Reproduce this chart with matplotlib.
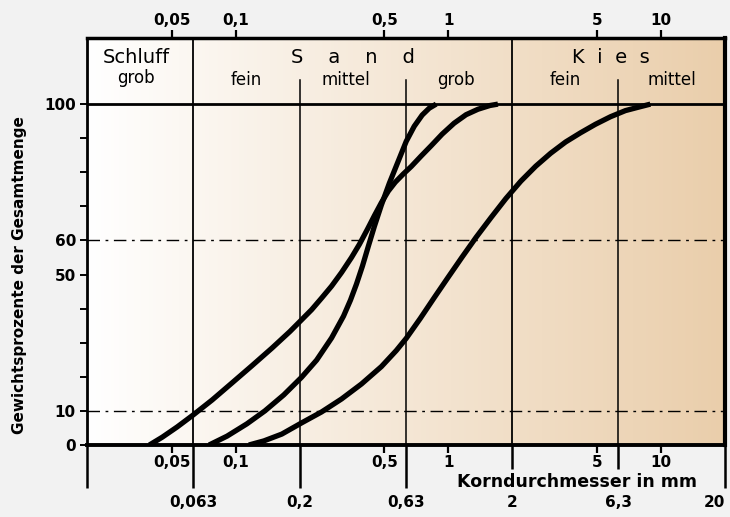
import numpy as np
import matplotlib
matplotlib.use("Agg")
import matplotlib.pyplot as plt
from matplotlib.ticker import FixedLocator, FixedFormatter

# Sieblinien: Korndurchmesser in mm / Siebdurchgang in %
d_links = [0.0393, 0.0452, 0.0531, 0.0631, 0.0775, 0.0961, 0.119, 0.148, 0.180, 0.204,
           0.2277, 0.2536, 0.2825, 0.3147, 0.3505, 0.3821, 0.4166, 0.4494, 0.4845,
           0.5224, 0.5631, 0.6141, 0.6694, 0.7457, 0.8307, 0.9354, 1.0646, 1.2117,
           1.379, 1.570, 1.711]
p_links = [0, 2.3, 5.3, 8.8, 13.2, 18.2, 23.2, 28.4, 33.3, 36.7,
           39.7, 43.1, 46.6, 50.6, 55.0, 58.9, 63.3, 67.3, 71.1,
           74.5, 77.1, 79.5, 81.7, 84.8, 87.8, 91.2, 94.4, 96.9,
           98.5, 99.6, 100]

d_mitte = [0.0750, 0.0911, 0.1129, 0.1372, 0.1684, 0.2044, 0.2403, 0.2825, 0.3215,
           0.3467, 0.3699, 0.3947, 0.4211, 0.4494, 0.4845, 0.5281, 0.5818, 0.6343,
           0.6914, 0.7536, 0.8130, 0.8768]
p_mitte = [0, 2.6, 6.2, 10.0, 14.7, 19.9, 24.9, 31.4, 37.8,
           42.5, 47.2, 52.5, 58.4, 64.2, 70.4, 76.8, 83.3, 89.1,
           93.5, 96.8, 98.8, 100]

d_rechts = [0.1154, 0.1357, 0.1648, 0.2044, 0.2536, 0.3147, 0.3905, 0.4845, 0.5692,
            0.6343, 0.7377, 0.858, 0.998, 1.160, 1.350, 1.587, 1.865, 2.193, 2.578,
            3.030, 3.562, 4.188, 4.923, 5.788, 6.805, 7.831, 8.915]
p_rechts = [0, 1.2, 3.2, 6.5, 9.7, 13.5, 17.9, 23.0, 27.7,
            31.3, 37.1, 43.2, 49.2, 55.1, 60.9, 66.7, 72.3, 77.4, 81.8,
            85.6, 88.9, 91.6, 94.1, 96.3, 98.1, 99.1, 100]

# Korngrenzen (lange Striche unten) und Zwischenwerte (kurze Striche)
grenzen = [0.02, 0.063, 0.2, 0.63, 2, 6.3, 20]
grenzen_labels = ["", "0,063", "0,2", "0,63", "2", "6,3", "20"]
zwischen = [0.05, 0.1, 0.5, 1, 5, 10]
zwischen_labels = ["0,05", "0,1", "0,5", "1", "5", "10"]
y_ticks = list(range(0, 101, 10))
y_labels = ["0", "10", "", "", "", "50", "60", "", "", "", "100"]

kopf = 119.4

fig = plt.figure(figsize=(7.3, 5.17), dpi=100, facecolor="#f2f2f2")
ax = fig.add_axes([87 / 730, 72 / 517, 638 / 730, 407 / 517])

# Hintergrund: Verlauf weiss -> sandfarben
t = np.linspace(0, 1, 256)[:, None]
c0 = np.array([255, 255, 255]) / 255
c1 = np.array([234, 206, 171]) / 255
grad = (c0 + (c1 - c0) * t).reshape(1, 256, 3)
ax.imshow(grad, extent=[0, 1, 0, 1], transform=ax.transAxes, aspect="auto", zorder=0)

ax.set_xscale("log")
ax.set_xlim(0.02, 20)
ax.set_ylim(0, kopf)

# Raster
for g in [0.063, 2]:
    ax.plot([g, g], [0, kopf], color="black", lw=1.3, zorder=1)
for g in [0.2, 0.63, 6.3]:
    ax.plot([g, g], [0, 107], color="black", lw=1.1, zorder=1)
ax.axhline(100, color="black", lw=2, zorder=1)
for h in [10, 60]:
    ax.axhline(h, color="black", lw=1, ls=(0, (9, 4, 2, 4)), zorder=1)

# Sieblinien
for d, p in [(d_links, p_links), (d_mitte, p_mitte), (d_rechts, p_rechts)]:
    ax.plot(d, p, color="black", lw=3.8, solid_capstyle="butt",
            solid_joinstyle="round", zorder=3)

# Kopfzeile
txt = dict(ha="center", va="center", color="black", zorder=4)
gm = lambda a, b: np.sqrt(a * b)
ax.text(gm(0.02, 0.063) * 0.96, 113.8, "Schluff", fontsize=14, **txt)
ax.text(gm(0.02, 0.063) * 0.96, 107.8, "grob", fontsize=12, **txt)
ax.text(gm(0.063, 2), 113.8, "S    a    n    d", fontsize=14, **txt)
ax.text(gm(0.063, 0.2), 107.2, "fein", fontsize=12, **txt)
ax.text(gm(0.2, 0.63) * 0.93, 107.2, "mittel", fontsize=12, **txt)
ax.text(gm(0.63, 2) * 0.97, 107.2, "grob", fontsize=12, **txt)
ax.text(gm(2, 20) * 0.92, 113.8, "K  i  e  s", fontsize=14, **txt)
ax.text(gm(2, 6.3), 107.2, "fein", fontsize=12, **txt)
ax.text(gm(6.3, 20), 107.2, "mittel", fontsize=12, **txt)

# Achsen
ax.xaxis.set_major_locator(FixedLocator(grenzen))
ax.xaxis.set_major_formatter(FixedFormatter(grenzen_labels))
ax.xaxis.set_minor_locator(FixedLocator(zwischen))
ax.xaxis.set_minor_formatter(FixedFormatter(zwischen_labels))
ax.tick_params(axis="x", which="major", direction="out", length=31, width=1.8, pad=5,
               labelsize=11, top=False)
ax.tick_params(axis="x", which="minor", direction="out", length=6, width=1.6, pad=1.5,
               labelsize=11, top=True, labeltop=True)
ax.yaxis.set_major_locator(FixedLocator(y_ticks))
ax.yaxis.set_major_formatter(FixedFormatter(y_labels))
ax.tick_params(axis="y", direction="out", length=5, width=1.4, pad=3, labelsize=11)
for lab in ax.get_xticklabels(which="both") + ax.get_yticklabels():
    lab.set_fontweight("bold")
ax.get_xticklabels()[-1].set_horizontalalignment("right")

# kuerzere Striche bei 2 und 6,3 (Achsentitel darunter)
for tick, loc in zip(ax.xaxis.get_major_ticks(), grenzen):
    if loc in (2, 6.3):
        tick.tick1line.set_markersize(17)

ax.spines["top"].set_linewidth(2.5)
ax.spines["right"].set_linewidth(3)
ax.spines["left"].set_linewidth(2)
ax.spines["bottom"].set_linewidth(2.8)

fig.text(20 / 730, 1 - 275 / 517, "Gewichtsprozente der Gesamtmenge", rotation=90,
         ha="center", va="center", fontsize=11, fontweight="bold")
fig.text(457 / 730, 1 - 482 / 517, "Korndurchmesser in mm", ha="left", va="center",
         fontsize=12.5, fontweight="bold")

fig.savefig("out.png", dpi=100, facecolor=fig.get_facecolor())
